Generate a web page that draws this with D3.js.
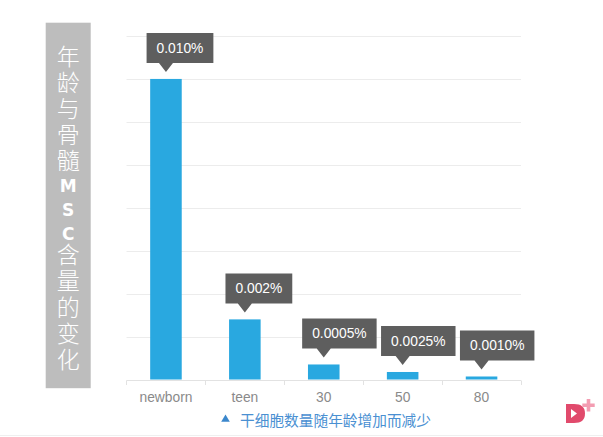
<!DOCTYPE html>
<html>
<head>
<meta charset="utf-8">
<script src="https://cdn.jsdelivr.net/npm/d3@7"></script>
<style>
  html, body { margin: 0; padding: 0; background: #fff; }
  svg { display: block; }
</style>
</head>
<body>
<svg id="chart" width="603" height="437"></svg>
<script>
// MSC share of bone-marrow cells (percent) by age group
const categories = ["newborn", "teen", "30", "50", "80"];
const mscShare = [0.010, 0.002, 0.0005, 0.00025, 0.0001];
const calloutLabels = ["0.010%", "0.002%", "0.0005%", "0.0025%", "0.0010%"];
const titleText = "年龄与骨髓MSC含量的变化";
const footnoteText = "干细胞数量随年龄增加而减少";

const svg = d3.select("#chart");
const W = 603, H = 437;

const plot = { left: 126.5, right: 521, top: 36, bottom: 379.5 };
const gridCount = 8;
// the newborn bar reaches the seventh of eight gridlines
const yMax = d3.max(mscShare) * gridCount / 7;

const x = d3.scaleBand()
  .domain(categories)
  .range([plot.left, plot.right])
  .paddingInner(0.6)
  .paddingOuter(0.3);

const y = d3.scaleLinear()
  .domain([0, yMax])
  .range([plot.bottom, plot.top]);

// horizontal gridlines
const gridValues = d3.range(1, gridCount + 1).map(k => k * yMax / gridCount);
svg.append("g")
  .selectAll("line")
  .data(gridValues)
  .join("line")
  .attr("x1", plot.left).attr("x2", plot.right)
  .attr("y1", d => Math.round(y(d)) + 0.5).attr("y2", d => Math.round(y(d)) + 0.5)
  .attr("stroke", "#ececec").attr("stroke-width", 1);

// x axis with ticks between categories
const xAxis = svg.append("g")
  .attr("transform", `translate(0,${Math.round(plot.bottom) + 0.5})`);
xAxis.append("line")
  .attr("x1", plot.left).attr("x2", plot.right)
  .attr("stroke", "#e2e2e2");
const step = x.step();
const edges = categories.map(c => x(c) - (step - x.bandwidth()) / 2).concat([plot.right]);
xAxis.selectAll("line.tick")
  .data(edges)
  .join("line")
  .attr("class", "tick")
  .attr("x1", d => Math.round(d) + 0.5).attr("x2", d => Math.round(d) + 0.5)
  .attr("y1", 0).attr("y2", 4.5)
  .attr("stroke", "#e2e2e2");
xAxis.selectAll("text")
  .data(categories)
  .join("text")
  .attr("x", d => x(d) + x.bandwidth() / 2)
  .attr("y", 21)
  .attr("text-anchor", "middle")
  .attr("font-family", "'Liberation Sans', Arial, sans-serif")
  .attr("font-size", 13.8)
  .attr("fill", "#8a8a8a")
  .text(d => d);

// bars
const rows = categories.map((c, i) => ({ cat: c, v: mscShare[i], label: calloutLabels[i] }));
svg.append("g")
  .selectAll("rect")
  .data(rows)
  .join("rect")
  .attr("x", d => x(d.cat))
  .attr("width", x.bandwidth())
  .attr("y", d => y(d.v))
  .attr("height", d => y(0) - y(d.v))
  .attr("fill", "#29a8e0");

// value callouts
const callouts = svg.append("g");
const boxH = 30, arrowH = 9, arrowHalf = 7, gap = 7;
rows.forEach(d => {
  const cx = x(d.cat) + x.bandwidth() / 2;
  const tipY = y(d.v) - gap;
  const g = callouts.append("g");
  const t = g.append("text")
    .attr("font-family", "'Liberation Sans', Arial, sans-serif")
    .attr("font-size", 13.8)
    .attr("fill", "#ffffff")
    .attr("text-anchor", "middle")
    .text(d.label);
  const tw = t.node().getComputedTextLength();
  const w = tw + 20;
  const left = cx - 0.29 * w;
  const bottom = tipY - arrowH;
  g.insert("path", "text")
    .attr("d", `M${left},${bottom - boxH}H${left + w}V${bottom}H${cx + arrowHalf}L${cx},${tipY}L${cx - arrowHalf},${bottom}H${left}Z`)
    .attr("fill", "#5e5e5e");
  t.attr("x", left + w / 2).attr("y", bottom - boxH / 2 + 5);
});

// vertical title panel, set in vertical writing mode
svg.append("rect")
  .attr("x", 45.7).attr("y", 22.7)
  .attr("width", 45).attr("height", 365.5)
  .attr("fill", "#bdbdbd");
const title = svg.append("text")
  .attr("x", 68.2).attr("y", 44.8)
  .style("writing-mode", "vertical-rl")
  .style("text-orientation", "upright")
  .attr("font-family", "'Noto Sans CJK SC', sans-serif")
  .attr("font-weight", 300)
  .attr("font-size", 23)
  .attr("letter-spacing", 3.1)
  .attr("fill", "#ffffff");
const latinSpacing = { M: 4.1, S: 4.3, C: -0.6 };
Array.from(titleText).forEach(ch => {
  const ts = title.append("tspan").text(ch);
  if (/[A-Za-z]/.test(ch)) {
    ts.attr("font-family", "'DejaVu Sans', sans-serif")
      .attr("font-weight", "bold")
      .attr("font-size", 17)
      .attr("letter-spacing", latinSpacing[ch]);
  }
});

// footnote with a small triangle marker
svg.append("path")
  .attr("d", "M225.5,414.4L229.8,421.8L221.2,421.8Z")
  .attr("fill", "#3b87cc");
svg.append("text")
  .attr("x", 240).attr("y", 419)
  .attr("dominant-baseline", "central")
  .attr("font-family", "'Noto Sans CJK SC', sans-serif")
  .attr("font-size", 14.7)
  .attr("fill", "#4a90d2")
  .text(footnoteText);

// bottom rule
svg.append("line")
  .attr("x1", 0).attr("x2", W)
  .attr("y1", 435.5).attr("y2", 435.5)
  .attr("stroke", "#efefef");

// brand mark
const logo = svg.append("g");
logo.append("path")
  .attr("d", "M566,404H574Q585,404 585,413.5Q585,423 574,423H566Z")
  .attr("fill", "#e14a6c");
logo.append("path")
  .attr("d", "M571,409L577,413.5L571,418Z")
  .attr("fill", "#ffffff");
logo.append("path")
  .attr("d", "M588.5,399V411.5M582.3,405.3H594.7")
  .attr("stroke", "#f39db2")
  .attr("stroke-width", 3.6);
</script>
</body>
</html>
